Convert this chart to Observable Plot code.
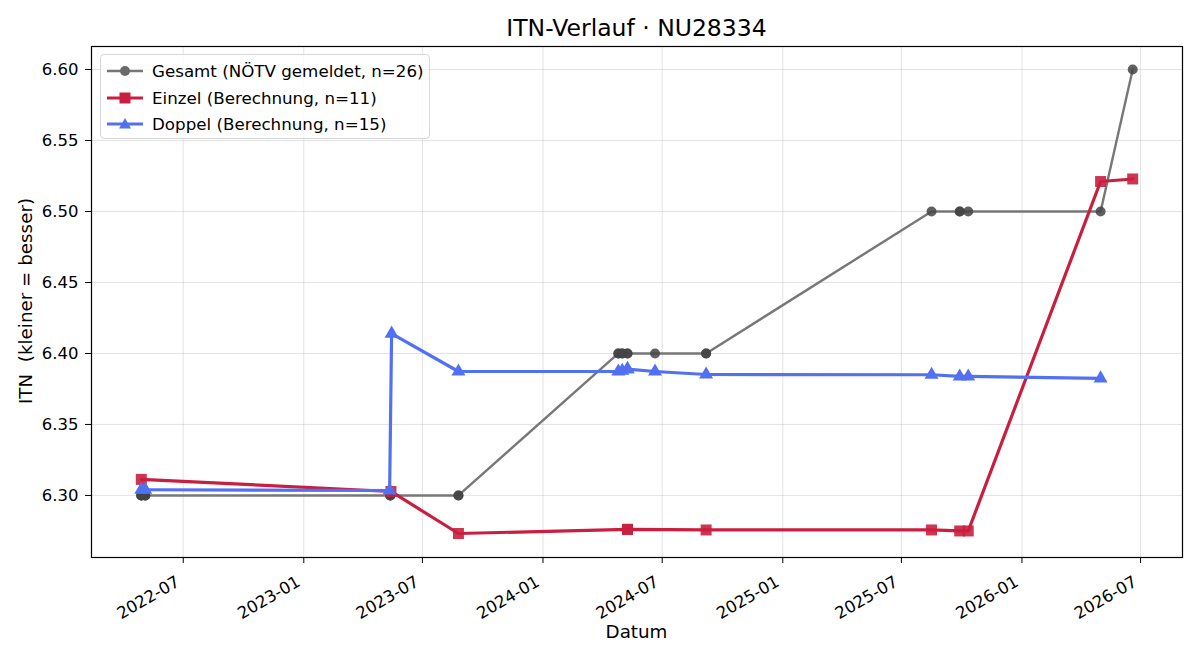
<!DOCTYPE html>
<html>
<head>
<meta charset="utf-8">
<script src="https://cdn.jsdelivr.net/npm/d3@7"></script>
<script src="https://cdn.jsdelivr.net/npm/@observablehq/plot@0.6"></script>
<style>
  html, body { margin: 0; padding: 0; background: #fff; }
  #wrap { position: relative; width: 1200px; height: 660px; font-family: "DejaVu Sans", sans-serif; color: #000; }
  #title { position: absolute; left: 91px; width: 1091px; top: 13px; text-align: center; font-size: 23.5px; line-height: 30px; }
  #xlabel { position: absolute; left: 91px; width: 1091px; top: 620px; text-align: center; font-size: 18.3px; line-height: 24px; }
  #ylabel { position: absolute; left: 26px; top: 301px; transform: translate(-50%, -50%) rotate(-90deg); white-space: pre; font-size: 18.3px; line-height: 24px; }
  #legend { position: absolute; left: 100px; top: 54px; width: 330px; height: 85px; box-sizing: border-box;
            border: 1px solid #d6d6d6; border-radius: 4px; background: rgba(255,255,255,0.8); font-size: 16.7px; }
  .row { position: absolute; left: 4px; height: 26px; display: flex; align-items: center; }
  .row svg { width: 40px; height: 20px; margin-right: 7px; }
  svg.plot text { font-family: "DejaVu Sans", sans-serif; }
</style>
</head>
<body>
<div id="wrap">
  <div id="chart"></div>
  <div id="title">ITN-Verlauf · NU28334</div>
  <div id="xlabel">Datum</div>
  <div id="ylabel">ITN  (kleiner = besser)</div>
  <div id="legend"></div>
</div>
<script>
// ---- data ----
const gesamtDates = ["2022-04-28","2022-04-28","2022-04-28","2022-05-04","2022-05-04","2022-05-04",
  "2023-05-13","2023-05-13","2023-05-13","2023-08-25","2023-08-25","2024-04-25","2024-04-25",
  "2024-05-01","2024-05-01","2024-05-09","2024-05-09","2024-06-20","2024-09-06","2024-09-06",
  "2025-08-16","2025-09-28","2025-09-28","2025-10-11","2026-05-01","2026-06-19"];
const gesamtValues = [6.30,6.30,6.30,6.30,6.30,6.30,
  6.30,6.30,6.30,6.30,6.30,6.40,6.40,
  6.40,6.40,6.40,6.40,6.40,6.40,6.40,
  6.50,6.50,6.50,6.50,6.50,6.60];

const einzelDates = ["2022-04-28","2023-05-14","2023-08-25","2024-05-09","2024-05-09","2024-09-06",
  "2025-08-16","2025-09-28","2025-10-11","2026-05-01","2026-06-19"];
const einzelValues = [6.3113,6.3028,6.2732,6.2761,6.2761,6.2757,6.2757,6.2750,6.2750,6.5211,6.5229];

const doppelDates = ["2022-04-28","2022-05-04","2023-05-12","2023-05-15","2023-08-25","2024-04-25",
  "2024-05-01","2024-05-09","2024-05-09","2024-06-20","2024-09-06","2025-08-16","2025-09-28",
  "2025-10-11","2026-05-01"];
const doppelValues = [6.3040,6.3040,6.3035,6.4140,6.3873,6.3873,6.3878,6.3890,6.3890,6.3873,6.3852,
  6.3850,6.3838,6.3838,6.3824];

const seriesNames = ["Gesamt (NÖTV gemeldet, n=26)", "Einzel (Berechnung, n=11)", "Doppel (Berechnung, n=15)"];
const yTicks = [6.30, 6.35, 6.40, 6.45, 6.50, 6.55, 6.60];
const xDomain = ["2022-02-11", "2026-09-03"];
const yDomain = [6.2563, 6.6162];

// ---- styles ----
const cGrayLine = "#777777", cGrayDot = "#444444", cGrayLegend = "#6a6a6a";
const cRed = "#c91f3e", cBlue = "#5271f2";

const toRows = (dates, vals) => dates.map((d, i) => ({date: new Date(d + "T00:00:00Z"), value: vals[i]}));
const gesamt = toRows(gesamtDates, gesamtValues);
const einzel = toRows(einzelDates, einzelValues);
const doppel = toRows(doppelDates, doppelValues);

const xd = xDomain.map(d => new Date(d + "T00:00:00Z"));
const xTicks = d3.utcMonth.every(6).range(xd[0], xd[1]);
const fmtX = d3.utcFormat("%Y-%m");

const chart = Plot.plot({
  width: 1200,
  height: 660,
  marginLeft: 91,
  marginRight: 18,
  marginTop: 46,
  marginBottom: 103,
  className: "plot",
  style: {fontFamily: "DejaVu Sans, sans-serif", fontSize: "16.5px", color: "#000", background: "transparent"},
  x: {type: "utc", domain: xd},
  y: {domain: yDomain},
  marks: [
    Plot.gridX(xTicks, {stroke: "#b0b0b0", strokeOpacity: 0.35, strokeWidth: 1}),
    Plot.gridY(yTicks, {stroke: "#b0b0b0", strokeOpacity: 0.35, strokeWidth: 1}),
    Plot.line(gesamt, {x: "date", y: "value", stroke: cGrayLine, strokeWidth: 2.4}),
    Plot.dot(gesamt, {x: "date", y: "value", r: 5, fill: cGrayDot, fillOpacity: 0.85, stroke: "none"}),
    Plot.line(einzel, {x: "date", y: "value", stroke: cRed, strokeWidth: 3.2}),
    Plot.dot(einzel, {x: "date", y: "value", symbol: "square", r: 6.2, fill: cRed, fillOpacity: 0.9, stroke: "none"}),
    Plot.line(doppel, {x: "date", y: "value", stroke: cBlue, strokeWidth: 3.2}),
    Plot.dot(doppel, {x: "date", y: "value", symbol: "triangle", r: 5.2, fill: cBlue, stroke: "none"}),
    Plot.frame({stroke: "#000", strokeWidth: 1.2}),
    Plot.axisX(xTicks, {tickFormat: () => "", tickSize: 6, label: null}),
    Plot.axisX(xTicks, {tickFormat: fmtX, tickRotate: -30, tickSize: 0, tickPadding: 4, dx: -5, dy: 19, label: null, fontSize: 16.5}),
    Plot.axisY(yTicks, {tickFormat: d3.format(".2f"), tickSize: 6, tickPadding: 7, label: null, fontSize: 16.5})
  ]
});
document.getElementById("chart").appendChild(chart);

// ---- legend ----
const legend = document.getElementById("legend");
const legendSymbols = [
  `<line x1="2" y1="10" x2="38" y2="10" stroke="${cGrayLine}" stroke-width="2.4"/><circle cx="20" cy="10" r="5" fill="${cGrayLegend}"/>`,
  `<line x1="2" y1="10" x2="38" y2="10" stroke="${cRed}" stroke-width="3.2"/><rect x="14.5" y="4.5" width="11" height="11" fill="${cRed}"/>`,
  `<line x1="2" y1="10" x2="38" y2="10" stroke="${cBlue}" stroke-width="3.2"/><path d="M20,4 L26,14.5 L14,14.5 Z" fill="${cBlue}"/>`
];
seriesNames.forEach((name, i) => {
  const row = document.createElement("div");
  row.className = "row";
  row.style.top = (3 + i * 26.5) + "px";
  row.innerHTML = `<svg viewBox="0 0 40 20">${legendSymbols[i]}</svg><span>${name}</span>`;
  legend.appendChild(row);
});
</script>
</body>
</html>
